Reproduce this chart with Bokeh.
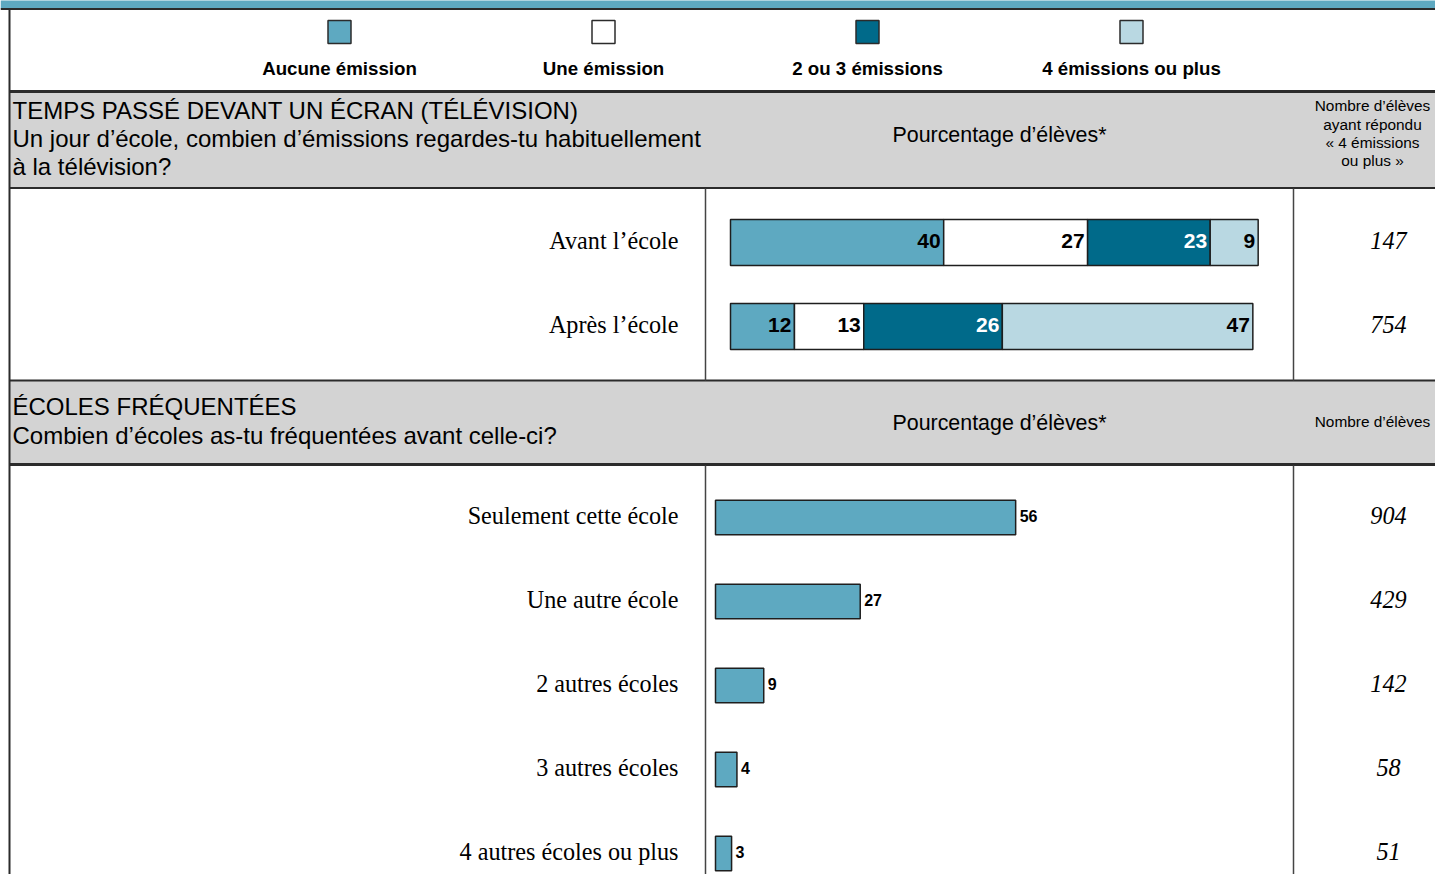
from bokeh.plotting import figure
from bokeh.models import Range1d, ColumnDataSource
from bokeh.core.properties import value
from bokeh.embed import file_html
from bokeh.resources import INLINE

# ---------------- data ----------------
series_names = ["Aucune émission", "Une émission", "2 ou 3 émissions", "4 émissions ou plus"]
series_colors = ["#5EA9C1", "#FFFFFF", "#006A8A", "#B9D8E2"]
series_label_colors = ["#000000", "#000000", "#FFFFFF", "#000000"]

tv_title = ["TEMPS PASSÉ DEVANT UN ÉCRAN (TÉLÉVISION)",
            "Un jour d’école, combien d’émissions regardes-tu habituellement",
            "à la télévision?"]
tv_rows = ["Avant l’école", "Après l’école"]
tv_aucune = [40, 12]
tv_une = [27, 13]
tv_2ou3 = [23, 26]
tv_4plus = [9, 47]
tv_counts = ["147", "754"]
tv_count_header = ["Nombre d’élèves", "ayant répondu", "« 4 émissions", "ou plus »"]

school_title = ["ÉCOLES FRÉQUENTÉES", "Combien d’écoles as-tu fréquentées avant celle-ci?"]
school_rows = ["Seulement cette école", "Une autre école", "2 autres écoles",
               "3 autres écoles", "4 autres écoles ou plus"]
school_pct = [56, 27, 9, 4, 3]
school_counts = ["904", "429", "142", "58", "51"]
school_count_header = ["Nombre d’élèves"]

pct_header = "Pourcentage d’élèves*"

# ---------------- layout helpers ----------------
FW, FH = 1435, 874   # frame size in px
X0, Y0 = 0, 0        # pixel coordinate of the frame's top-left corner
SANS = value("Liberation Sans")
SERIF = value("Liberation Serif")
LINE = "#2b2b2b"
GREY = "#D3D3D3"


def x_range_for(v0, p0, v1, p1):
    k = (p1 - p0) / (v1 - v0)
    start = v0 - (p0 - X0) / k
    return Range1d(start=start, end=start + FW / k)


def y_range_for(v0, p0, v1, p1):
    k = (p1 - p0) / (v1 - v0)
    top = v0 - (p0 - Y0) / k
    return Range1d(start=top + FH / k, end=top)


p = figure(width=FW, height=FH, output_backend="svg", toolbar_location=None,
           x_range=Range1d(X0, X0 + FW), y_range=Range1d(Y0 + FH, Y0),
           min_border=0, outline_line_color=None, background_fill_color="white",
           border_fill_color="white")
p.axis.visible = False
p.grid.visible = False

p.extra_x_ranges = {"pct1": x_range_for(0, 730, 100, 1263),
                    "pct2": x_range_for(0, 715, 100, 1251)}
p.extra_y_ranges = {"rows1": y_range_for(0, 242, 1, 326),
                    "rows2": y_range_for(0, 517, 1, 601)}

# ---------------- backgrounds & rules ----------------
p.quad(left=[0], right=[1460], top=[-2], bottom=[8], fill_color=series_colors[0], line_color=None)
p.quad(left=[9, 9], right=[1460, 1460], top=[92, 380], bottom=[187, 464],
       fill_color=GREY, line_color=None)
# horizontal rules
p.segment(x0=[0], y0=[8.5], x1=[1460], y1=[8.5], line_color=LINE, line_width=2)
p.segment(x0=[9], y0=[91], x1=[1460], y1=[91], line_color=LINE, line_width=3)
p.segment(x0=[9, 9], y0=[187.5, 380], x1=[1460, 1460], y1=[187.5, 380], line_color=LINE, line_width=2)
p.segment(x0=[9], y0=[464], x1=[1460], y1=[464], line_color=LINE, line_width=3)
# vertical rules
p.segment(x0=[9], y0=[8], x1=[9], y1=[900], line_color=LINE, line_width=2)
p.segment(x0=[705, 1293, 705, 1293], y0=[188, 188, 465, 465],
          x1=[705, 1293, 705, 1293], y1=[380, 380, 900, 900], line_color="#444444", line_width=1.5)

# ---------------- legend ----------------
leg_x = [339, 603, 867, 1131]
p.rect(x=leg_x, y=[31.5] * 4, width=23, height=23, fill_color=series_colors,
       line_color=LINE, line_width=1.5)
p.text(x=leg_x, y=[68] * 4, text=series_names, text_font=SANS, text_font_style="bold",
       text_font_size="18.7px", text_align="center", text_baseline="middle", text_color="black")

# ---------------- section headers ----------------
p.text(x=[12] * 3, y=[110, 138, 166], text=tv_title, text_font=SANS, text_font_size="24px",
       text_align="left", text_baseline="middle", text_color="black")
p.text(x=[12] * 2, y=[406, 435], text=school_title, text_font=SANS, text_font_size="24px",
       text_align="left", text_baseline="middle", text_color="black")
p.text(x=[999, 999], y=[134, 422], text=[pct_header, pct_header], text_font=SANS,
       text_font_size="21.4px", text_align="center", text_baseline="middle", text_color="black")
p.text(x=[1372] * 4, y=[105, 124, 142, 160], text=tv_count_header, text_font=SANS,
       text_font_size="15.4px", text_align="center", text_baseline="middle", text_color="black")
p.text(x=[1372], y=[421], text=school_count_header, text_font=SANS,
       text_font_size="15.4px", text_align="center", text_baseline="middle", text_color="black")

# ---------------- section 1: stacked bars ----------------
tv_series = [tv_aucune, tv_une, tv_2ou3, tv_4plus]
idx1 = list(range(len(tv_rows)))
left = [0] * len(tv_rows)
for vals, col, lcol in zip(tv_series, series_colors, series_label_colors):
    right = [l + v for l, v in zip(left, vals)]
    src = ColumnDataSource(dict(y=idx1, left=left, right=right, lab=[str(v) for v in vals]))
    p.hbar(y="y", left="left", right="right", height=0.55, source=src,
           x_range_name="pct1", y_range_name="rows1",
           fill_color=col, line_color="#1e1e1e", line_width=1.5)
    p.text(x="right", y="y", text="lab", source=src, x_range_name="pct1", y_range_name="rows1",
           x_offset=-3, y_offset=-2, text_align="right", text_baseline="middle", text_font=SANS,
           text_font_style="bold", text_font_size="21px", text_color=lcol)
    left = right

p.text(x=[678] * len(tv_rows), y=idx1, text=tv_rows, y_range_name="rows1", y_offset=-2,
       text_font=SERIF, text_font_size="24.2px", text_align="right", text_baseline="middle",
       text_color="black")
p.text(x=[1388] * len(tv_rows), y=idx1, text=tv_counts, y_range_name="rows1", y_offset=-2,
       text_font=SERIF, text_font_style="italic", text_font_size="24.2px",
       text_align="center", text_baseline="middle", text_color="black")

# ---------------- section 2: simple bars ----------------
idx2 = list(range(len(school_rows)))
src2 = ColumnDataSource(dict(y=idx2, v=school_pct, lab=[str(v) for v in school_pct]))
p.hbar(y="y", left=0, right="v", height=0.41, source=src2,
       x_range_name="pct2", y_range_name="rows2",
       fill_color=series_colors[0], line_color="#1e1e1e", line_width=1.5)
p.text(x="v", y="y", text="lab", source=src2, x_range_name="pct2", y_range_name="rows2",
       x_offset=4, y_offset=-2, text_align="left", text_baseline="middle", text_font=SANS,
       text_font_style="bold", text_font_size="16px", text_color="black")
p.text(x=[678] * len(school_rows), y=idx2, text=school_rows, y_range_name="rows2", y_offset=-2,
       text_font=SERIF, text_font_size="24.2px", text_align="right", text_baseline="middle",
       text_color="black")
p.text(x=[1388] * len(school_rows), y=idx2, text=school_counts, y_range_name="rows2", y_offset=-2,
       text_font=SERIF, text_font_style="italic", text_font_size="24.2px",
       text_align="center", text_baseline="middle", text_color="black")

open("out.html", "w").write(file_html(p, INLINE))
